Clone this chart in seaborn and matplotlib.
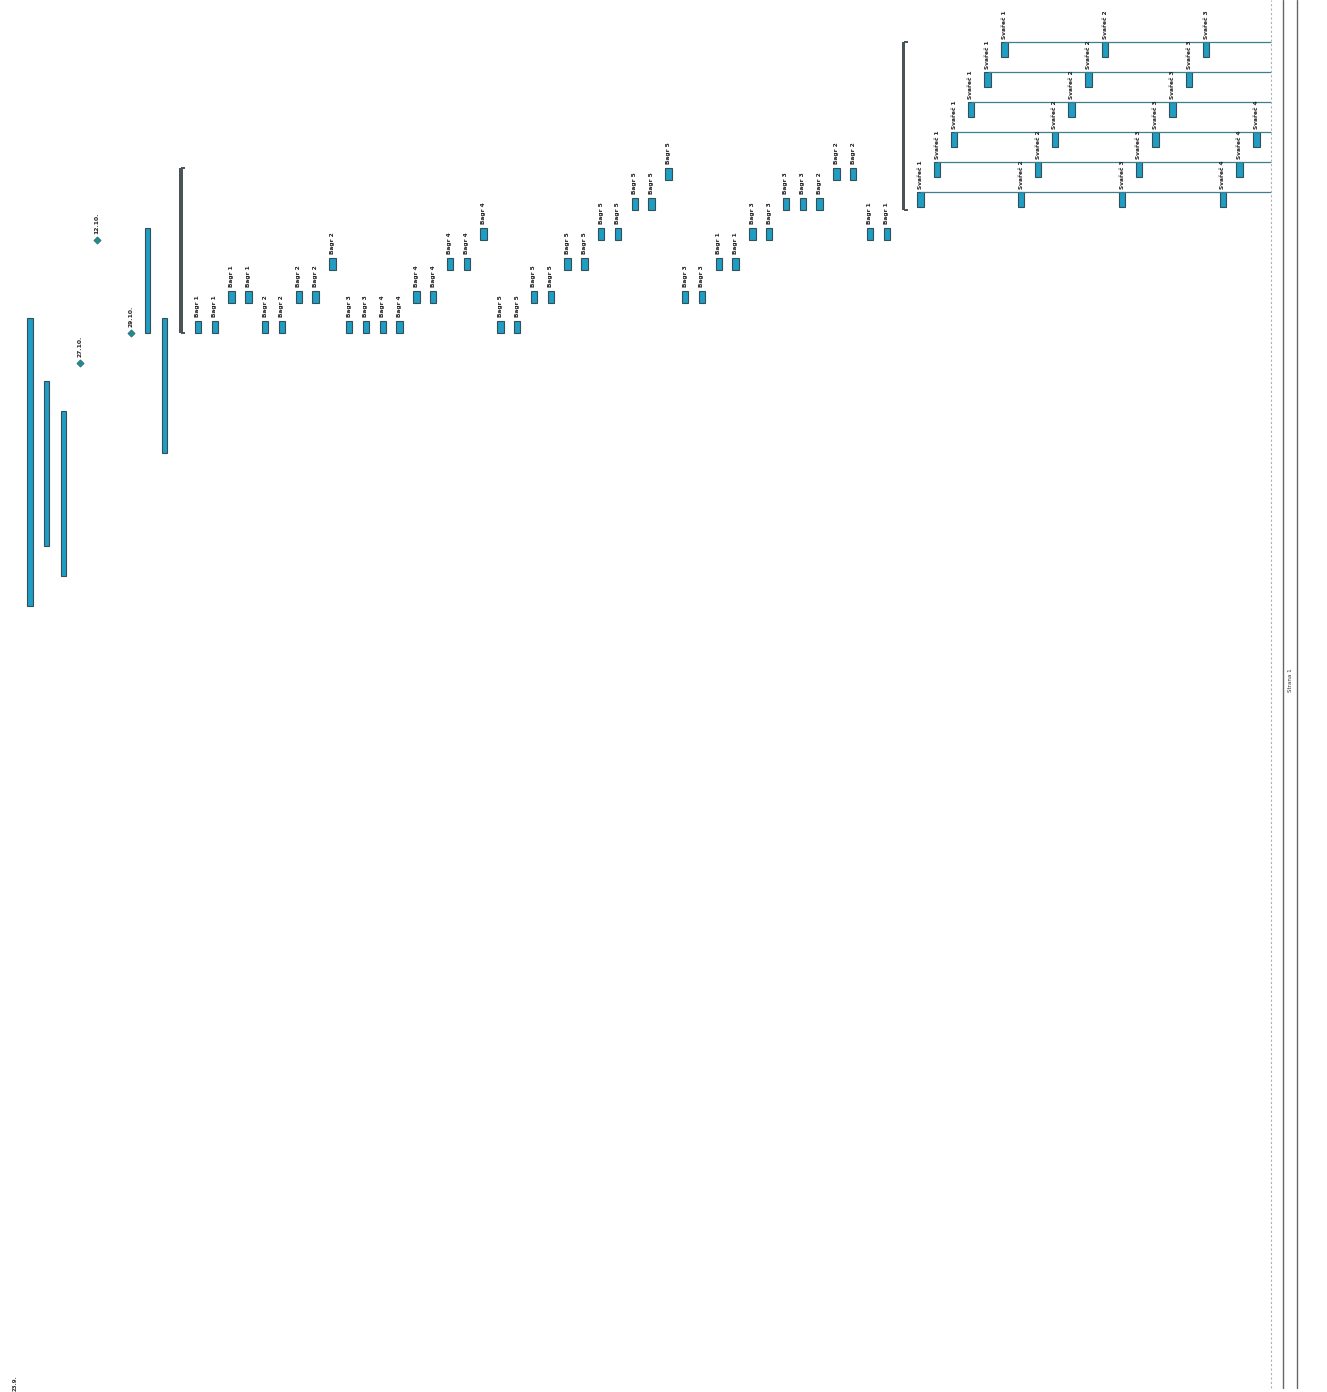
import numpy as np
import matplotlib
matplotlib.use("Agg")
import matplotlib.pyplot as plt
import seaborn as sns

# rotated gantt page: x = task row, y = time in days (upwards)
long_rows = [0, 1, 2, 7, 8]
long_start = [262, 282, 272, 353, 313]
long_end = [358, 337, 327, 388, 358]

milestone_rows = [3, 4, 6]
milestone_t = [343, 384, 353]
milestone_labels = ["27.10.", "12.10.", "29.10."]

summary_rows = [9, 52]
summary_start = [353, 394]
summary_end = [408, 450]

bagr_rows = list(range(10, 52))
bagr_names = ["Bagr 1", "Bagr 1", "Bagr 1", "Bagr 1",
              "Bagr 2", "Bagr 2", "Bagr 2", "Bagr 2", "Bagr 2",
              "Bagr 3", "Bagr 3",
              "Bagr 4", "Bagr 4", "Bagr 4", "Bagr 4", "Bagr 4", "Bagr 4", "Bagr 4",
              "Bagr 5", "Bagr 5", "Bagr 5", "Bagr 5", "Bagr 5", "Bagr 5",
              "Bagr 5", "Bagr 5", "Bagr 5", "Bagr 5", "Bagr 5",
              "Bagr 3", "Bagr 3", "Bagr 1", "Bagr 1",
              "Bagr 3", "Bagr 3", "Bagr 3", "Bagr 3",
              "Bagr 2", "Bagr 2", "Bagr 2", "Bagr 1", "Bagr 1"]
bagr_start = [353, 353, 363, 363, 353, 353, 363, 363, 374, 353, 353,
              353, 353, 363, 363, 374, 374, 384,
              353, 353, 363, 363, 374, 374, 384, 384, 394, 394, 404,
              363, 363, 374, 374, 384, 384, 394, 394, 394, 404, 404, 384, 384]
bagr_days = [4] * 42

svarec_rows = list(range(53, 74))
svarec_names = ["Svařeč 1"] * 6 + ["Svařeč 2"] * 6 + ["Svařeč 3"] * 6 + ["Svařeč 4"] * 3
svarec_start = [395, 405, 415, 425, 435, 445,
                395, 405, 415, 425, 435, 445,
                395, 405, 415, 425, 435, 445,
                395, 405, 415]
svarec_days = [5] * 21

link_rows = [53, 54, 55, 56, 57, 58]
link_t = [400, 410, 420, 430, 440, 450]

bar_color = "#1f9dc2"
edge_color = "#33505a"
dark = "#4a5357"

sns.set_theme(style="white")
plt.rcParams['font.family'] = ['Liberation Sans Narrow', 'DejaVu Sans']

fig = plt.figure(figsize=(13.27, 13.92), dpi=100)
ax = fig.add_axes([0, 0, 1, 1])
ax.set_xlim(-30 / 16.8, (1327 - 30) / 16.8)
ax.set_ylim(0, 464)
ax.axis('off')

# long tasks
ax.bar(long_rows, np.array(long_end) - np.array(long_start), bottom=long_start,
       width=0.32, color=bar_color, edgecolor=edge_color, linewidth=0.8)

# summary bars
ax.bar(summary_rows, np.array(summary_end) - np.array(summary_start), bottom=summary_start,
       width=0.22, color=dark, linewidth=0)
for r, s, e in zip(summary_rows, summary_start, summary_end):
    ax.hlines([s, e], r, r + 0.25, color=dark, lw=1.4)

# milestones
sns.scatterplot(x=milestone_rows, y=milestone_t, marker='D', s=14, color="#1c8c96",
                edgecolor="#2d5a60", linewidth=0.4, ax=ax, legend=False)
for r, t, lab in zip(milestone_rows, milestone_t, milestone_labels):
    ax.annotate(lab, (r, t), xytext=(0, 4), textcoords='offset points', rotation=90,
                ha='center', va='bottom', fontsize=4.3, fontweight='bold', color='#222222')

# link lines for welders
x_frame = ax.get_xlim()[0] + (1271 / 1327) * (ax.get_xlim()[1] - ax.get_xlim()[0])
ax.hlines(link_t, link_rows, x_frame, color="#3d7f8c", lw=0.9)

# excavator and welder tasks
ax.bar(bagr_rows, bagr_days, bottom=bagr_start, width=0.38,
       color=bar_color, edgecolor=edge_color, linewidth=0.8)
ax.bar(svarec_rows, svarec_days, bottom=svarec_start, width=0.38,
       color=bar_color, edgecolor=edge_color, linewidth=0.8)

for r, s, d, lab in zip(bagr_rows, bagr_start, bagr_days, bagr_names):
    ax.annotate(lab, (r, s + d), xytext=(0, 3), textcoords='offset points', rotation=90,
                ha='center', va='bottom', fontsize=4.2, fontweight='bold', color='#222222')
for r, s, d, lab in zip(svarec_rows, svarec_start, svarec_days, svarec_names):
    ax.annotate(lab, (r, s + d), xytext=(0, 2), textcoords='offset points', rotation=90,
                ha='center', va='bottom', fontsize=4.2, fontweight='bold', color='#222222')

# page frame on the right
fig.add_artist(plt.Line2D([1271 / 1327] * 2, [0.003, 1], transform=fig.transFigure,
                          color='#b0b0b0', lw=0.8, ls=(0, (2, 2))))
for fx in [1283 / 1327, 1297 / 1327]:
    fig.add_artist(plt.Line2D([fx, fx], [0.003, 1], transform=fig.transFigure,
                              color='#666666', lw=1.0))
fig.text(1290 / 1327, 1 - 680 / 1392, "Strana 1", rotation=90, ha='center', va='center',
         fontsize=4, color='#333333')
fig.text(15 / 1327, 1 - 1383 / 1392, "23.9.", rotation=90, ha='center', va='center',
         fontsize=4, fontweight='bold', color='#333333')

fig.savefig('out.png', dpi=100)
